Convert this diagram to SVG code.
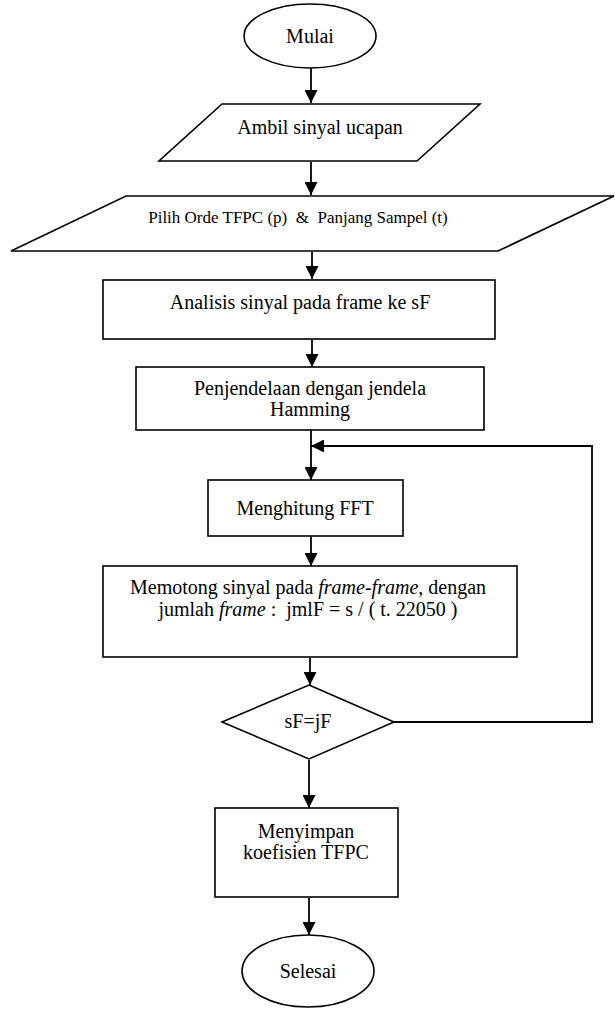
<svg xmlns="http://www.w3.org/2000/svg" width="615" height="1009" viewBox="0 0 615 1009">
<style>
.s{fill:#fff;stroke:#000;stroke-width:1.6}
.t{font-family:"Liberation Serif","Times New Roman",serif;font-size:20px;fill:#000;text-anchor:middle}
.c{fill:none;stroke:#000;stroke-width:1.8}
</style>
<defs>
<marker id="a" viewBox="0 0 10 10" refX="10" refY="5" markerWidth="13" markerHeight="13" markerUnits="userSpaceOnUse" orient="auto">
<path d="M0,0L10,5L0,10z" fill="#000"/>
</marker>
</defs>
<rect width="615" height="1009" fill="#fff"/>
<g id="connectors">
<line class="c" x1="311" y1="68" x2="311" y2="103" marker-end="url(#a)"/>
<line class="c" x1="311" y1="162" x2="311" y2="195" marker-end="url(#a)"/>
<line class="c" x1="312" y1="252" x2="312" y2="279" marker-end="url(#a)"/>
<line class="c" x1="312" y1="340" x2="312" y2="367" marker-end="url(#a)"/>
<line class="c" x1="311" y1="430" x2="311" y2="480" marker-end="url(#a)"/>
<line class="c" x1="311" y1="536" x2="311" y2="566" marker-end="url(#a)"/>
<line class="c" x1="310" y1="658" x2="310" y2="685" marker-end="url(#a)"/>
<line class="c" x1="309" y1="760" x2="309" y2="808" marker-end="url(#a)"/>
<line class="c" x1="309" y1="898" x2="309" y2="935" marker-end="url(#a)"/>
<polyline class="c" points="394,722 592,722 592,446 311,446" marker-end="url(#a)"/>
</g>
<g id="mulai">
<ellipse class="s" cx="310" cy="36" rx="66" ry="32"/>
<text class="t" x="310" y="43">Mulai</text>
</g>
<g id="ambil">
<polygon class="s" points="222,104 480,104 417,161 159,161"/>
<text class="t" x="320" y="134">Ambil sinyal ucapan</text>
</g>
<g id="pilih">
<polygon class="s" points="126,196 614,196 498,251 11,251"/>
<text class="t" x="298" y="223" style="font-size:17px" xml:space="preserve">Pilih Orde TFPC (p)  &amp;  Panjang Sampel (t)</text>
</g>
<g id="analisis">
<rect class="s" x="103" y="280" width="392" height="59"/>
<text class="t" x="300" y="309">Analisis sinyal pada frame ke sF</text>
</g>
<g id="penjendelaan">
<rect class="s" x="136" y="367" width="348" height="63"/>
<text class="t" x="310" y="395">Penjendelaan dengan jendela</text>
<text class="t" x="310" y="416">Hamming</text>
</g>
<g id="fft">
<rect class="s" x="208" y="480" width="195" height="56"/>
<text class="t" x="305" y="515">Menghitung FFT</text>
</g>
<g id="memotong">
<rect class="s" x="103" y="566" width="414" height="91"/>
<text class="t" x="308" y="594">Memotong sinyal pada <tspan font-style="italic">frame-frame</tspan>, dengan</text>
<text class="t" x="308" y="616" xml:space="preserve">jumlah <tspan font-style="italic">frame</tspan> :  jmlF = s / ( t. 22050 )</text>
</g>
<g id="decision">
<polygon class="s" points="309,685 394,722 309,759 222,722"/>
<text class="t" x="308" y="728">sF=jF</text>
</g>
<g id="menyimpan">
<rect class="s" x="215" y="808" width="183" height="89"/>
<text class="t" x="306" y="838">Menyimpan</text>
<text class="t" x="306" y="859">koefisien TFPC</text>
</g>
<g id="selesai">
<ellipse class="s" cx="308" cy="971" rx="66" ry="36"/>
<text class="t" x="308" y="978">Selesai</text>
</g>
</svg>
